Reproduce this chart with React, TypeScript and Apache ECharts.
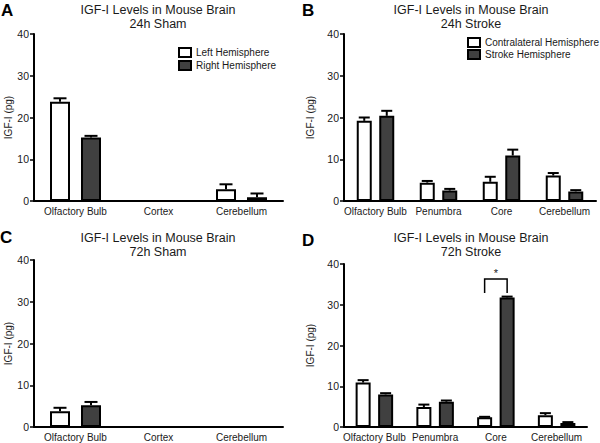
import React, { useEffect, useRef } from "react";
import * as echarts from "echarts";

const catsSham = ["Olfactory Bulb", "Cortex", "Cerebellum"];
const catsStroke = ["Olfactory Bulb", "Penumbra", "Core", "Cerebellum"];
const yTicks = [0, 10, 20, 30, 40];

// A: 24h Sham
const aLeft = [23.8, null, 2.8];
const aLeftErr = [0.8, null, 1.2];
const aRight = [15.2, null, 0.9];
const aRightErr = [0.4, null, 0.9];

// B: 24h Stroke
const bContra = [19.2, 4.4, 4.6, 6.1];
const bContraErr = [0.8, 0.4, 1.2, 0.6];
const bStroke = [20.4, 2.5, 10.9, 2.3];
const bStrokeErr = [1.2, 0.4, 1.4, 0.3];

// C: 72h Sham
const cLeft = [3.8, null, null];
const cLeftErr = [0.8, null, null];
const cRight = [5.2, null, null];
const cRightErr = [0.8, null, null];

// D: 72h Stroke
const dContra = [10.9, 4.9, 2.4, 2.9];
const dContraErr = [0.6, 0.6, 0.1, 0.5];
const dStroke = [8.0, 6.2, 31.8, 1.0];
const dStrokeErr = [0.3, 0.3, 0.2, 0.2];

// significance bracket in D: [category, bottom, top]
const sigBracket = [[2, 32.9, 36.3]];

const FONT = "'Liberation Sans', Arial, Helvetica, sans-serif";
const DARK = "#404040";

export default function App() {
  const ref = useRef<HTMLDivElement>(null);
  useEffect(() => {
    document.body.style.margin = "0";
    const chart = echarts.init(ref.current!, null, { renderer: "svg" });

    const grids = [
      { left: 34, top: 34, width: 249, height: 167 },
      { left: 344, top: 34, width: 252, height: 167 },
      { left: 34, top: 260, width: 249, height: 167 },
      { left: 344, top: 264, width: 243, height: 163 },
    ];
    const cats = [catsSham, catsStroke, catsSham, catsStroke];
    const nameGaps = [20, 29, 20, 29];
    const barW = [20, 15, 20, 15];
    const barGap = [0.55, 0.5, 0.55, 0.5];
    const capW = [13, 11, 13, 11];

    const xAxes = grids.map((_, i) => ({
      type: "category",
      gridIndex: i,
      data: cats[i],
      axisLine: { lineStyle: { color: "#000", width: 2 } },
      axisTick: { alignWithLabel: true, length: 3, lineStyle: { color: "#000", width: 1.5 } },
      axisLabel: { color: "#1a1a1a", fontSize: 10, margin: 5, interval: 0, fontFamily: FONT },
    }));
    const yAxes = grids.map((_, i) => ({
      type: "value",
      gridIndex: i,
      min: 0,
      max: 40,
      interval: 10,
      name: "IGF-I (pg)",
      nameLocation: "middle",
      nameGap: nameGaps[i],
      nameTextStyle: { color: "#1a1a1a", fontSize: 10, fontFamily: FONT },
      splitLine: { show: false },
      axisLine: { show: true, lineStyle: { color: "#000", width: 2 } },
      axisTick: { show: true, length: 4, lineStyle: { color: "#000", width: 1.5 } },
      axisLabel: {
        color: "#1a1a1a",
        fontSize: 10.5,
        margin: 5,
        fontFamily: FONT,
        formatter: (v: number) => (yTicks.includes(v) ? String(v) : ""),
      },
    }));

    const panels = [
      { a: aLeft, ae: aLeftErr, b: aRight, be: aRightErr, na: "Left Hemisphere", nb: "Right Hemisphere" },
      { a: bContra, ae: bContraErr, b: bStroke, be: bStrokeErr, na: "Contralateral Hemisphere", nb: "Stroke Hemisphere" },
      { a: cLeft, ae: cLeftErr, b: cRight, be: cRightErr, na: "Left Hemisphere", nb: "Right Hemisphere" },
      { a: dContra, ae: dContraErr, b: dStroke, be: dStrokeErr, na: "Contralateral Hemisphere", nb: "Stroke Hemisphere" },
    ];

    const series: any[] = [];
    panels.forEach((p, i) => {
      const off = (barW[i] * (1 + barGap[i])) / 2;
      const mk = (vals: (number | null)[], fill: string, name: string) => ({
        type: "bar",
        name,
        xAxisIndex: i,
        yAxisIndex: i,
        barWidth: barW[i],
        barGap: barGap[i] * 100 + "%",
        data: vals.map((v) => (v == null ? "-" : v)),
        itemStyle: { color: fill, borderColor: "#000", borderWidth: 2 },
      });
      series.push(mk(p.a, "#fff", p.na));
      series.push(mk(p.b, DARK, p.nb));
      const mkErr = (vals: (number | null)[], errs: (number | null)[], dx: number) => ({
        type: "custom",
        xAxisIndex: i,
        yAxisIndex: i,
        silent: true,
        encode: { x: 0, y: 1 },
        data: vals
          .map((v, k) => (v == null ? null : [k, v, errs[k] ?? 0]))
          .filter((d) => d != null),
        renderItem: (params: any, api: any) => {
          const x = api.value(0);
          const v = api.value(1);
          const e = api.value(2);
          const base = api.coord([x, v]);
          const top = api.coord([x, v + e]);
          const cx = base[0] + dx;
          const hw = capW[i] / 2;
          return {
            type: "group",
            children: [
              { type: "line", shape: { x1: cx, y1: base[1], x2: cx, y2: top[1] }, style: { stroke: "#000", lineWidth: 2 } },
              { type: "line", shape: { x1: cx - hw, y1: top[1], x2: cx + hw, y2: top[1] }, style: { stroke: "#000", lineWidth: 2 } },
            ],
          };
        },
      });
      series.push(mkErr(p.a, p.ae, -off));
      series.push(mkErr(p.b, p.be, off));
      if (i === 3) {
        series.push({
          type: "custom",
          xAxisIndex: 3,
          yAxisIndex: 3,
          silent: true,
          encode: { x: 0, y: 1 },
          data: sigBracket,
          renderItem: (params: any, api: any) => {
            const x = api.value(0);
            const lo = api.coord([x, api.value(1)]);
            const hi = api.coord([x, api.value(2)]);
            const x1 = lo[0] - off;
            const x2 = lo[0] + off;
            return {
              type: "group",
              children: [
                {
                  type: "polyline",
                  shape: { points: [[x1, lo[1]], [x1, hi[1]], [x2, hi[1]], [x2, lo[1]]] },
                  style: { stroke: "#000", lineWidth: 1.5, fill: "none" },
                },
                {
                  type: "text",
                  x: (x1 + x2) / 2,
                  y: hi[1] - 1,
                  style: { text: "*", fontSize: 11, fill: "#1a1a1a", align: "center", verticalAlign: "bottom", fontFamily: FONT },
                },
              ],
            };
          },
        });
      }
    });

    const titleStyle = { color: "#1a1a1a", fontSize: 12.5, lineHeight: 14, fontWeight: "normal", fontFamily: FONT };
    const letterStyle = { color: "#000", fontSize: 17, fontWeight: "bold", fontFamily: FONT };

    chart.setOption({
      animation: false,
      textStyle: { fontFamily: FONT },
      title: [
        { text: "IGF-I Levels in Mouse Brain\n24h Sham", left: 158, top: 3, textAlign: "center", padding: 0, textStyle: titleStyle },
        { text: "IGF-I Levels in Mouse Brain\n24h Stroke", left: 471, top: 3, textAlign: "center", padding: 0, textStyle: titleStyle },
        { text: "IGF-I Levels in Mouse Brain\n72h Sham", left: 158, top: 231, textAlign: "center", padding: 0, textStyle: titleStyle },
        { text: "IGF-I Levels in Mouse Brain\n72h Stroke", left: 471, top: 231, textAlign: "center", padding: 0, textStyle: titleStyle },
        { text: "A", left: 1, top: 2, padding: 0, textStyle: letterStyle },
        { text: "B", left: 302, top: 2, padding: 0, textStyle: letterStyle },
        { text: "C", left: 0, top: 229, padding: 0, textStyle: letterStyle },
        { text: "D", left: 302, top: 232, padding: 0, textStyle: letterStyle },
      ],
      legend: [
        {
          data: ["Left Hemisphere", "Right Hemisphere"],
          orient: "vertical",
          left: 178,
          top: 47,
          padding: 0,
          itemGap: 2,
          itemWidth: 12,
          itemHeight: 9,
          icon: "rect",
          selectedMode: false,
          itemStyle: { borderColor: "#000", borderWidth: 2 },
          textStyle: { color: "#1a1a1a", fontSize: 10, fontFamily: FONT },
        },
        {
          data: ["Contralateral Hemisphere", "Stroke Hemisphere"],
          orient: "vertical",
          left: 467,
          top: 37,
          padding: 0,
          itemGap: 1,
          itemWidth: 12,
          itemHeight: 9,
          icon: "rect",
          selectedMode: false,
          itemStyle: { borderColor: "#000", borderWidth: 2 },
          textStyle: { color: "#1a1a1a", fontSize: 10, fontFamily: FONT },
        },
      ],
      grid: grids,
      xAxis: xAxes,
      yAxis: yAxes,
      series,
    });
    return () => chart.dispose();
  }, []);
  return <div ref={ref} style={{ width: 600, height: 443 }} />;
}
